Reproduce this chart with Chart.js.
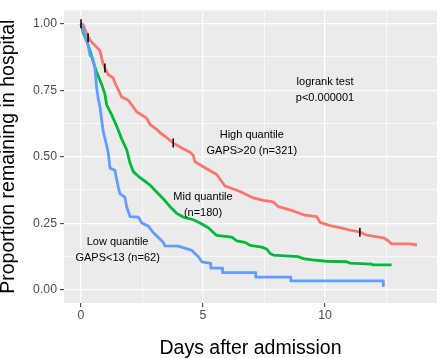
<!DOCTYPE html>
<html>
<head>
<meta charset="utf-8">
<script src="https://cdn.jsdelivr.net/npm/chart.js@4/dist/chart.umd.min.js"></script>
<style>
  html, body { margin: 0; padding: 0; background: #ffffff; }
  canvas { display: block; }
</style>
</head>
<body>
<canvas id="c" width="440" height="358"></canvas>
<script>
// ---- data (days after admission, proportion remaining) ----
const highDays = [0, 0.09, 0.27, 0.44, 0.64, 0.78, 0.90, 0.98, 1.12, 1.32, 1.39, 1.67, 1.94, 2.28, 2.69, 2.83, 3.10, 3.24, 3.51, 3.78, 4.19, 4.47, 4.60, 4.67, 5.01, 5.56, 5.90, 6.52, 7.06, 7.47, 7.88, 8.09, 8.70, 9.18, 9.66, 9.80, 10.20, 10.61, 11.02, 11.43, 11.71, 12.39, 12.59, 12.73, 13.48, 13.77];
const highSurv = [1.0, 0.996, 0.953, 0.93, 0.912, 0.898, 0.851, 0.833, 0.808, 0.796, 0.778, 0.724, 0.712, 0.669, 0.645, 0.621, 0.603, 0.590, 0.572, 0.551, 0.530, 0.517, 0.505, 0.481, 0.462, 0.433, 0.390, 0.369, 0.345, 0.336, 0.330, 0.312, 0.296, 0.280, 0.275, 0.253, 0.241, 0.233, 0.224, 0.217, 0.205, 0.195, 0.184, 0.172, 0.172, 0.168];

const midDays = [0, 0.09, 0.23, 0.37, 0.50, 0.64, 0.85, 0.98, 1.05, 1.26, 1.46, 1.67, 1.87, 2.01, 2.14, 2.42, 2.69, 2.83, 3.10, 3.37, 3.65, 3.92, 4.19, 4.60, 4.88, 5.22, 5.56, 6.18, 6.38, 6.72, 6.93, 7.41, 7.61, 7.75, 7.88, 8.91, 9.11, 9.46, 10.07, 10.89, 11.02, 11.91, 11.98, 12.73];
const midSurv = [1.0, 0.966, 0.936, 0.899, 0.857, 0.818, 0.771, 0.735, 0.695, 0.657, 0.615, 0.566, 0.527, 0.476, 0.444, 0.421, 0.403, 0.393, 0.367, 0.342, 0.312, 0.287, 0.273, 0.263, 0.251, 0.233, 0.204, 0.198, 0.184, 0.178, 0.167, 0.160, 0.153, 0.136, 0.130, 0.124, 0.117, 0.112, 0.107, 0.105, 0.100, 0.096, 0.093, 0.093];

const lowDays = [0, 0.20, 0.30, 0.37, 0.48, 0.57, 0.64, 0.71, 0.78, 0.85, 0.91, 1.05, 1.12, 1.19, 1.39, 1.46, 1.53, 1.60, 1.80, 1.87, 2.01, 2.35, 2.49, 2.76, 2.96, 3.17, 3.37, 3.44, 3.99, 4.54, 4.67, 4.81, 4.95, 5.32, 5.32, 5.80, 5.80, 7.16, 7.16, 8.60, 8.60, 12.39, 12.39];
const lowSurv = [1.0, 0.948, 0.916, 0.880, 0.872, 0.833, 0.760, 0.716, 0.687, 0.636, 0.596, 0.542, 0.512, 0.457, 0.449, 0.415, 0.384, 0.360, 0.348, 0.312, 0.275, 0.273, 0.251, 0.239, 0.215, 0.196, 0.178, 0.165, 0.164, 0.148, 0.136, 0.124, 0.105, 0.099, 0.081, 0.081, 0.064, 0.064, 0.047, 0.047, 0.033, 0.033, 0.015];

// censoring marks
const censorDays = [0, 0.29, 0.98, 3.78, 11.43];
const censorSurv = [1.0, 0.947, 0.833, 0.551, 0.216];

// axis ticks
const xTicks = [0, 2.5, 5, 7.5, 10, 12.5];
const xMajor = [0, 5, 10];
const yTicks = [0, 0.125, 0.25, 0.375, 0.5, 0.625, 0.75, 0.875, 1.0];
const yMajor = [0, 0.25, 0.5, 0.75, 1.0];

// text annotations
const noteLines = [
  ["logrank test", "p<0.000001"],
  ["High quantile", "GAPS>20 (n=321)"],
  ["Mid quantile", "(n=180)"],
  ["Low quantile", "GAPS<13 (n=62)"]
];
const noteX = [10, 7, 5, 1.5];
const noteY = [0.75, 0.55, 0.32, 0.15];

// ---- build ----
const pts = (xs, ys) => xs.map((x, i) => ({x: x, y: ys[i]}));
const FONT = "'Liberation Sans', Arial, Helvetica, sans-serif";
const isMajor = (v, list) => list.some(m => Math.abs(m - v) < 1e-9);

const panelBg = {
  id: 'panelBg',
  beforeDraw(chart) {
    const {ctx, chartArea: a} = chart;
    ctx.save();
    ctx.fillStyle = '#ffffff';
    ctx.fillRect(0, 0, chart.width, chart.height);
    ctx.fillStyle = '#EBEBEB';
    ctx.fillRect(a.left, a.top, a.right - a.left, a.bottom - a.top);
    ctx.restore();
  }
};

const notes = {
  id: 'notes',
  afterDatasetsDraw(chart) {
    const {ctx, scales: {x, y}} = chart;
    ctx.save();
    ctx.fillStyle = '#000000';
    ctx.font = '11px ' + FONT;
    ctx.textAlign = 'center';
    ctx.textBaseline = 'middle';
    const lh = 16;
    noteLines.forEach((lines, i) => {
      const cx = x.getPixelForValue(noteX[i]);
      const cy = y.getPixelForValue(noteY[i]);
      const y0 = cy - (lines.length - 1) * lh / 2;
      lines.forEach((t, j) => ctx.fillText(t, cx, y0 + j * lh));
    });
    ctx.restore();
  }
};

const curve = (data, color, order) => ({
  data: data, showLine: true, borderColor: color, backgroundColor: color,
  borderWidth: 2.8, pointRadius: 0, fill: false, tension: 0, order: order,
  borderJoinStyle: 'round'
});

new Chart(document.getElementById('c'), {
  type: 'scatter',
  data: {
    datasets: [
      {
        data: pts(censorDays, censorSurv), pointStyle: 'line', rotation: 90,
        pointRadius: 4.5, borderColor: '#000000', backgroundColor: '#000000',
        borderWidth: 1.5, showLine: false, order: 0
      },
      curve(pts(lowDays, lowSurv), '#619CFF', 1),
      curve(pts(midDays, midSurv), '#00BA38', 2),
      curve(pts(highDays, highSurv), '#F8766D', 3)
    ]
  },
  options: {
    responsive: false,
    animation: false,
    devicePixelRatio: 1,
    layout: { autoPadding: false, padding: { left: 0, right: 3, top: 0, bottom: 0 } },
    plugins: { legend: { display: false }, tooltip: { enabled: false } },
    scales: {
      x: {
        type: 'linear', min: -0.697, max: 14.59,
        afterBuildTicks: s => { s.ticks = xTicks.map(v => ({value: v})); },
        afterFit: s => { s.height = 55; },
        border: { display: false },
        grid: {
          color: '#ffffff',
          lineWidth: c => isMajor(c.tick.value, xMajor) ? 1.3 : 0.65,
          tickColor: c => isMajor(c.tick.value, xMajor) ? '#333333' : 'rgba(0,0,0,0)',
          tickLength: 4, tickWidth: 1
        },
        ticks: {
          color: '#4D4D4D', font: { family: FONT, size: 12.3 }, padding: 1,
          maxRotation: 0, autoSkip: false,
          callback: v => isMajor(v, xMajor) ? String(v) : ''
        },
        title: {
          display: true, text: 'Days after admission', color: '#000000',
          font: { family: FONT, size: 19.5, lineHeight: 1.0 }, padding: 0
        }
      },
      y: {
        type: 'linear', min: -0.05, max: 1.05,
        afterBuildTicks: s => { s.ticks = yTicks.map(v => ({value: v})); },
        afterFit: s => { s.width = 64; },
        border: { display: false },
        grid: {
          color: '#ffffff',
          lineWidth: c => isMajor(c.tick.value, yMajor) ? 1.3 : 0.65,
          tickColor: c => isMajor(c.tick.value, yMajor) ? '#333333' : 'rgba(0,0,0,0)',
          tickLength: 4, tickWidth: 1
        },
        ticks: {
          color: '#4D4D4D', font: { family: FONT, size: 12.3 }, padding: 3,
          autoSkip: false,
          callback: v => isMajor(v, yMajor) ? v.toFixed(2) : ''
        },
        title: {
          display: true, text: 'Proportion remaining in hospital', color: '#000000',
          font: { family: FONT, size: 19.5, lineHeight: 0.9 }, padding: 0
        }
      }
    }
  },
  plugins: [panelBg, notes]
});
</script>
</body>
</html>
